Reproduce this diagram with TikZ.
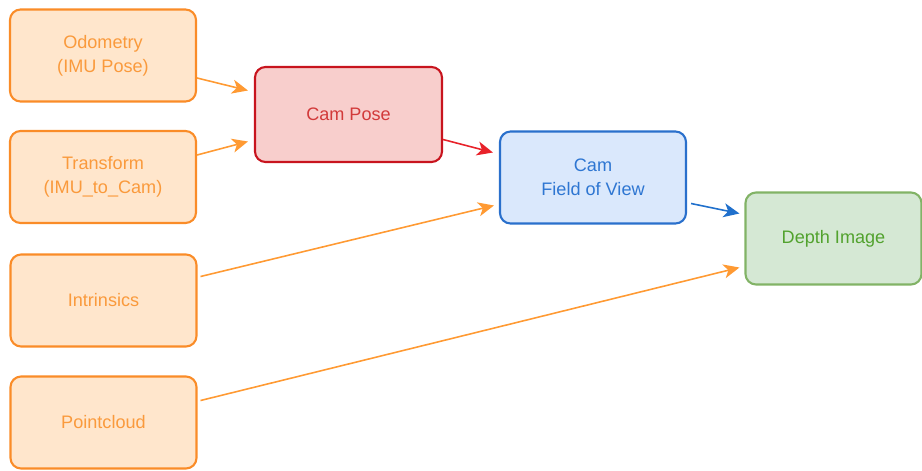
\documentclass[tikz,border=0pt]{standalone}
\usepackage{fontspec}
\setmainfont{Liberation Sans}
\usepackage{xcolor}
\usepackage{tikz}
\usetikzlibrary{arrows.meta, positioning}

\begin{document}
\begin{tikzpicture}[
    font=\fontsize{10.3}{13.5}\selectfont,
    box/.style={draw, line width=1.2pt, rounded corners=6pt, align=center,
                minimum width=3.72cm, minimum height=1.84cm, inner sep=2pt},
    inbox/.style={box, fill=infill, draw=instroke, text=intext},
    flow/.style={-{Stealth[length=9pt,width=8pt,inset=2.5pt]}, line width=0.9pt}
  ]
  \definecolor{infill}{HTML}{FFE6CC}
  \definecolor{instroke}{HTML}{FA8C28}
  \definecolor{intext}{HTML}{FA9A3C}
  \definecolor{posefill}{HTML}{F8CECC}
  \definecolor{posestroke}{HTML}{C8141E}
  \definecolor{posetext}{HTML}{D23A3A}
  \definecolor{fovfill}{HTML}{DAE8FC}
  \definecolor{fovstroke}{HTML}{2A70CC}
  \definecolor{fovtext}{HTML}{2E76D2}
  \definecolor{depthfill}{HTML}{D5E8D4}
  \definecolor{depthstroke}{HTML}{82B366}
  \definecolor{depthtext}{HTML}{52A22E}
  \definecolor{arroworange}{HTML}{FF9A33}
  \definecolor{arrowred}{HTML}{E8222A}
  \definecolor{arrowblue}{HTML}{2070CC}

  \useasboundingbox (0,0) rectangle (18.44,-9.4);

  % inputs on the left
  \node[inbox] (odom) at (2.06,-1.11) {Odometry\\(IMU Pose)};
  \node[inbox] (tf) at (2.06,-3.54) {Transform\\(IMU\_to\_Cam)};
  \node[inbox] (intr) at (2.07,-6.01) {Intrinsics};
  \node[inbox] (cloud) at (2.07,-8.45) {Pointcloud};

  % processing
  \node[box, fill=posefill, draw=posestroke, text=posetext, minimum width=3.74cm, minimum height=1.9cm] (pose) at (6.97,-2.29) {Cam Pose};
  \node[box, fill=fovfill, draw=fovstroke, text=fovtext] (fov) at (11.86,-3.55) {Cam\\Field of View};
  \node[box, fill=depthfill, draw=depthstroke, text=depthtext, minimum width=3.52cm] (depth) at (16.67,-4.77) {Depth Image};

  % connectors
  \draw[flow, arroworange] ([yshift=-0.45cm]odom.east) -- ([xshift=-0.12cm,yshift=0.48cm]pose.west);
  \draw[flow, arroworange] ([yshift=0.44cm]tf.east) -- ([xshift=-0.12cm,yshift=-0.54cm]pose.west);
  \draw[flow, arrowred] ([yshift=-0.5cm]pose.east) -- ([xshift=-0.12cm,yshift=0.5cm]fov.west);
  \draw[flow, arroworange] ([xshift=0.06cm,yshift=0.48cm]intr.east) -- ([xshift=-0.1cm,yshift=-0.56cm]fov.west);
  \draw[flow, arrowblue] ([xshift=0.08cm,yshift=-0.52cm]fov.east) -- ([xshift=-0.1cm,yshift=0.5cm]depth.west);
  \draw[flow, arroworange] ([xshift=0.06cm,yshift=0.44cm]cloud.east) -- ([xshift=-0.1cm,yshift=-0.58cm]depth.west);
\end{tikzpicture}
\end{document}
